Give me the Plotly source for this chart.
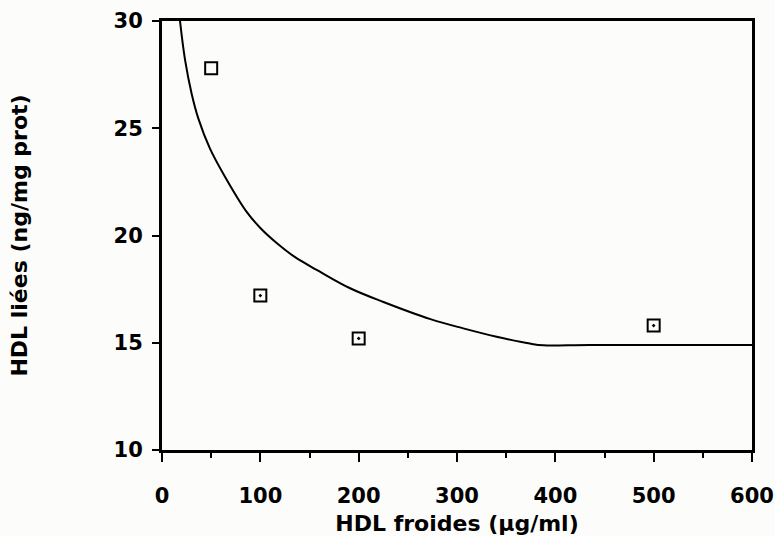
import plotly.graph_objects as go

# Measured points (HDL froides vs HDL liées)
pts_x = [50, 100, 200, 500]
pts_y = [27.8, 17.2, 15.2, 15.8]
pts_symbol = ["square-open", "square-open-dot", "square-open-dot", "square-open-dot"]

# Fitted curve
fit_x = [18.3, 23.4, 30.2, 37.0, 48.8, 65.8, 86.1, 100.0, 116.6, 135.0, 157.3, 191.3, 225.2,
         273.0, 306.4, 340.3, 374.2, 388.0, 435.0, 600.0]
fit_y = [30.0, 28.2, 26.6, 25.45, 24.05, 22.6, 21.1, 20.35, 19.65, 19.0, 18.4, 17.54, 16.9,
         16.1, 15.67, 15.28, 14.96, 14.88, 14.9, 14.9]

x_ticks = [0, 100, 200, 300, 400, 500, 600]
y_ticks = [10, 15, 20, 25, 30]

FONT = "DejaVu Sans"

fig = go.Figure()
fig.add_trace(go.Scatter(x=fit_x, y=fit_y, mode="lines",
                         line=dict(color="black", width=2, shape="spline", smoothing=1.0),
                         showlegend=False, hoverinfo="skip", cliponaxis=True))
fig.add_trace(go.Scatter(x=pts_x, y=pts_y, mode="markers",
                         marker=dict(symbol=pts_symbol, size=12, color="black",
                                     line=dict(color="black", width=2)),
                         showlegend=False))

fig.update_layout(
    width=775, height=536,
    margin=dict(l=162, r=23, t=21, b=86),
    paper_bgcolor="#fcfcfa", plot_bgcolor="#fcfcfa",
    font=dict(family=FONT, color="black", size=21),
)
fig.update_xaxes(
    range=[0, 600], tickvals=x_ticks, ticktext=[str(v) for v in x_ticks],
    automargin=False,
    showline=True, linecolor="black", linewidth=3, mirror=True,
    ticks="outside", ticklen=9, tickwidth=2, tickcolor="black",
    minor=dict(tickvals=[50, 150, 250, 350, 450, 550], ticks="outside", ticklen=5,
               tickwidth=2, tickcolor="black"),
    showgrid=False, zeroline=False,
    tickfont=dict(family=FONT, size=21, weight="bold"),
    ticklabelstandoff=16,
    title=dict(text="HDL froides (µg/ml)", font=dict(family=FONT, size=22, weight="bold"),
               standoff=12),
)
fig.update_yaxes(
    range=[10, 30], tickvals=y_ticks, ticktext=[str(v) for v in y_ticks],
    automargin=False,
    showline=True, linecolor="black", linewidth=3, mirror=True,
    ticks="outside", ticklen=7, tickwidth=2, tickcolor="black",
    showgrid=False, zeroline=False,
    tickfont=dict(family=FONT, size=21, weight="bold"),
    ticklabelstandoff=5,
    title=dict(text="HDL liées (ng/mg prot)", font=dict(family=FONT, size=22, weight="bold"),
               standoff=80),
)

fig.write_html("out.html")
